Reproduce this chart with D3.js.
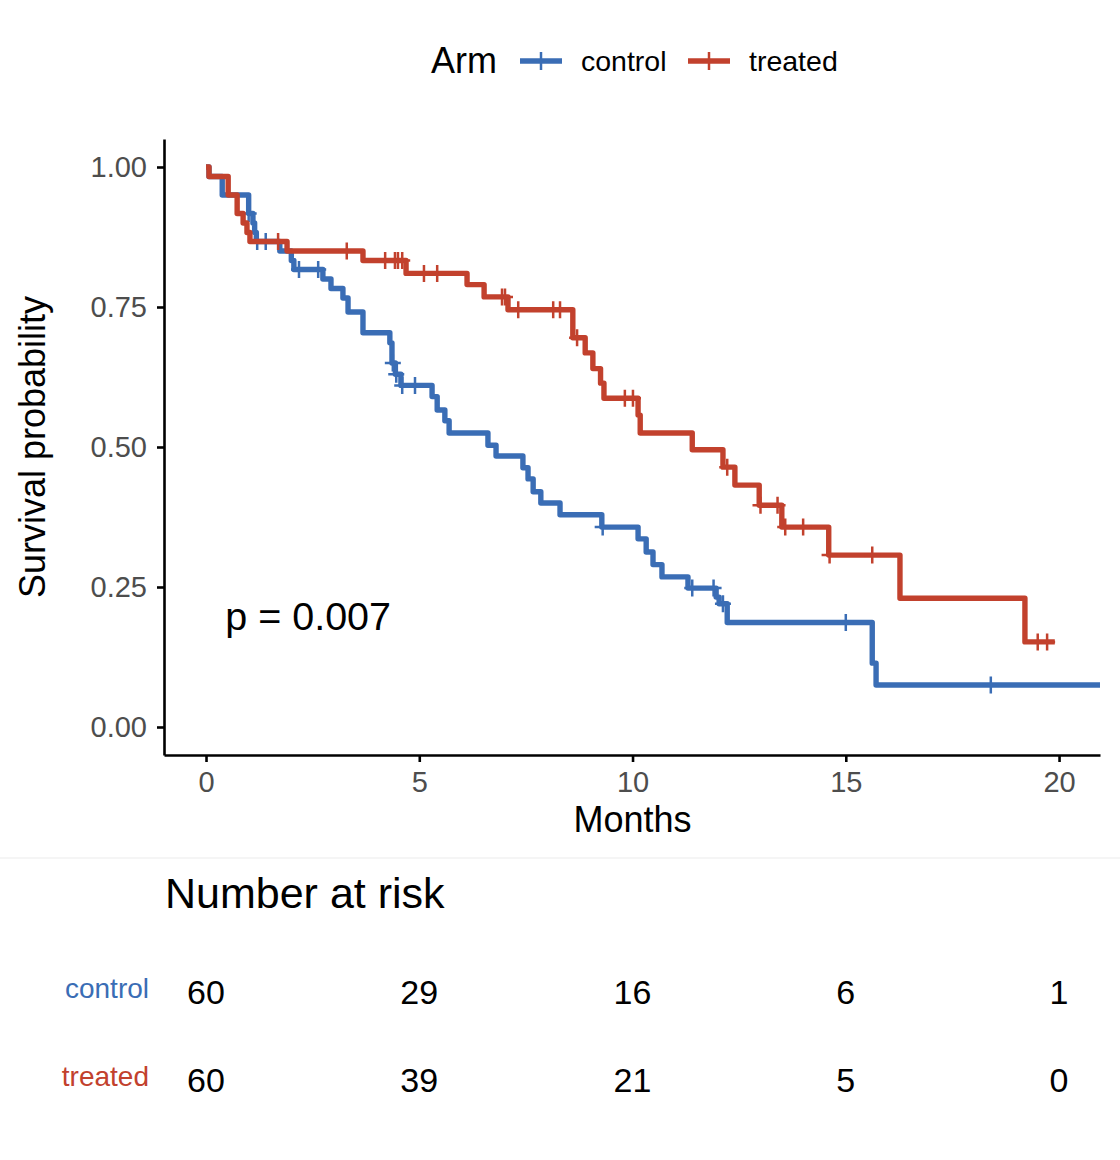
<!DOCTYPE html>
<html><head><meta charset="utf-8">
<script src="https://cdn.jsdelivr.net/npm/d3@7"></script>
<style>html,body{margin:0;padding:0;background:#fff;}svg{display:block;font-family:"Liberation Sans",Arial,Helvetica,sans-serif;}</style>
</head><body>
<script>
// ---- data ----
const groups = ["control", "treated"];
const groupColors = ["#3a6db5", "#c2412d"];
const controlStepTime = [0.07,0.38,1.0,1.1,1.14,1.18,1.73,2.0,2.06,2.74,2.93,3.21,3.33,3.68,4.31,4.36,4.44,4.57,5.3,5.42,5.6,5.7,6.61,6.8,7.43,7.55,7.67,7.85,8.3,9.28,10.13,10.32,10.48,10.69,11.3,11.96,12.03,12.22,15.62,15.71];
const controlStepSurv = [0.983,0.95,0.917,0.9,0.883,0.867,0.85,0.833,0.817,0.8,0.783,0.766,0.741,0.704,0.686,0.65,0.63,0.61,0.59,0.566,0.547,0.525,0.503,0.484,0.463,0.443,0.42,0.40,0.379,0.357,0.336,0.3125,0.29,0.268,0.248,0.232,0.22,0.1865,0.114,0.075];
const controlEnd = 20.96;
const controlCensor = [1.0,1.2,1.4,2.18,2.63,4.38,4.46,4.6,4.9,9.3,11.4,11.9,12.12,15.0,18.4];
const treatedStepTime = [0.07,0.52,0.73,0.87,0.96,1.03,1.9,3.68,4.69,6.12,6.52,7.08,8.6,8.89,9.07,9.25,9.33,10.13,10.18,11.4,12.12,12.4,12.97,13.5,14.6,16.27,19.2];
const treatedStepSurv = [0.983,0.95,0.917,0.9,0.883,0.867,0.85,0.833,0.81,0.79,0.768,0.745,0.695,0.668,0.64,0.614,0.587,0.557,0.525,0.495,0.464,0.432,0.396,0.357,0.307,0.23,0.152];
const treatedEnd = 19.9;
const treatedCensor = [1.69,3.3,4.2,4.43,4.5,4.6,5.11,5.42,6.94,7.01,7.32,8.14,8.3,8.7,9.82,10.01,12.22,13.0,13.4,13.58,14.0,14.62,15.62,19.5,19.72];
const xTicks = [0,5,10,15,20];
const yTicks = [0,0.25,0.5,0.75,1];
const pValueLabel = "p = 0.007";
const riskControl = [60,29,16,6,1];
const riskTreated = [60,39,21,5,0];

// ---- layout ----
const W = 1120, H = 1160;
const svg = d3.select("body").append("svg").attr("width", W).attr("height", H);
const x = d3.scaleLinear().domain([-0.985, 20.96]).range([164, 1100]);
const y = d3.scaleLinear().domain([-0.05, 1.05]).range([755, 139]);

function curve(times, survs, end) {
  const pts = [[0, 1]];
  times.forEach((t, i) => pts.push([t, survs[i]]));
  pts.push([end, survs[survs.length - 1]]);
  return pts;
}
function survAt(times, survs, t) {
  let s = 1;
  times.forEach((tt, i) => { if (tt <= t) s = survs[i]; });
  return s;
}
const series = [
  {name: "control", pts: curve(controlStepTime, controlStepSurv, controlEnd), censor: controlCensor.map(t => [t, survAt(controlStepTime, controlStepSurv, t)])},
  {name: "treated", pts: curve(treatedStepTime, treatedStepSurv, treatedEnd), censor: treatedCensor.map(t => [t, survAt(treatedStepTime, treatedStepSurv, t)])}
];

const line = d3.line().x(d => x(d[0])).y(d => y(d[1])).curve(d3.curveStepAfter);
series.forEach((s, i) => {
  const c = groupColors[i];
  svg.append("path").datum(s.pts).attr("d", line).attr("fill", "none")
    .attr("stroke", c).attr("stroke-width", 5.4).attr("stroke-linejoin", "round");
  const g = svg.append("g");
  s.censor.forEach(d => {
    const cx = x(d[0]), cy = y(d[1]);
    g.append("path").attr("d", `M${cx-8},${cy}H${cx+8}M${cx},${cy-8.5}V${cy+8.5}`)
      .attr("stroke", c).attr("stroke-width", 2.5).attr("fill", "none");
  });
});

// axes
const yAxis = svg.append("g").attr("transform", "translate(164,0)")
  .call(d3.axisLeft(y).tickValues(yTicks).tickFormat(d3.format(".2f")).tickSize(7).tickSizeOuter(0).tickPadding(10));
const xAxis = svg.append("g").attr("transform", "translate(0,755)")
  .call(d3.axisBottom(x).tickValues(xTicks).tickFormat(d3.format("d")).tickSize(7).tickSizeOuter(0).tickPadding(9));
[yAxis, xAxis].forEach(a => {
  a.select(".domain").attr("stroke", "#000").attr("stroke-width", 2.6);
  a.selectAll(".tick line").attr("stroke", "#000").attr("stroke-width", 2.6);
  a.selectAll(".tick text").attr("fill", "#4d4d4d").style("font-size", "29px").style("font-family", "Liberation Sans, Arial, sans-serif");
});
xAxis.selectAll(".tick text").attr("dy", "0.71em");

svg.append("text").attr("transform", "translate(45,447) rotate(-90)").attr("text-anchor", "middle")
  .style("font-size", "36px").text("Survival probability");
svg.append("text").attr("x", x(10)).attr("y", 832).attr("text-anchor", "middle")
  .style("font-size", "36px").text("Months");
svg.append("text").attr("x", x(0.45)).attr("y", 630).style("font-size", "39.5px").text(pValueLabel);

// legend
svg.append("text").attr("x", 431).attr("y", 73).style("font-size", "36px").text("Arm");
const legX = [520, 688];
groups.forEach((gname, i) => {
  const lx = legX[i], c = groupColors[i];
  svg.append("line").attr("x1", lx).attr("x2", lx + 42).attr("y1", 61).attr("y2", 61).attr("stroke", c).attr("stroke-width", 5.4);
  svg.append("path").attr("d", `M${lx+21},${52}V${70}`).attr("stroke", c).attr("stroke-width", 2.5);
  svg.append("text").attr("x", lx + 61).attr("y", 71).style("font-size", "28.5px").text(gname);
});

// separator
svg.append("line").attr("x1", 0).attr("x2", W).attr("y1", 858).attr("y2", 858).attr("stroke", "#ebebeb").attr("stroke-width", 1.2);

// risk table
svg.append("text").attr("x", 165).attr("y", 908).style("font-size", "43px").text("Number at risk");
const rows = [riskControl, riskTreated];
const rowY = [992, 1080];
rows.forEach((r, i) => {
  svg.append("text").attr("x", 149).attr("y", rowY[i] - 4).attr("text-anchor", "end").attr("dy", "0.35em")
    .attr("fill", groupColors[i]).style("font-size", "28px").text(groups[i]);
  r.forEach((v, j) => {
    svg.append("text").attr("x", x(xTicks[j])).attr("y", rowY[i]).attr("text-anchor", "middle").attr("dy", "0.35em")
      .style("font-size", "34px").text(v);
  });
});
</script>
</body></html>
